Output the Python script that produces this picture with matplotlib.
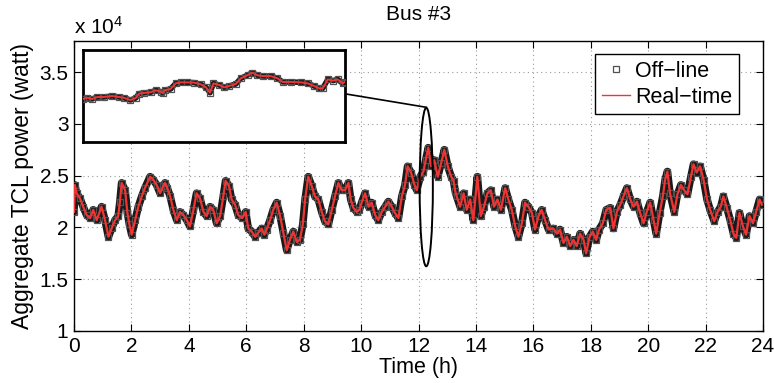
import matplotlib
matplotlib.use("Agg")
import matplotlib.pyplot as plt
from matplotlib.patches import Ellipse
from matplotlib.lines import Line2D

plt.rcParams['font.family'] = ['Liberation Sans', 'DejaVu Sans']
plt.rcParams['mathtext.default'] = 'regular'

# Aggregate TCL power at bus 3, in units of 10^4 W
hours = [
    0.00, 0.03, 0.09, 0.21, 0.32, 0.44, 0.56, 0.67, 0.79, 0.96, 1.08, 1.20, 1.31, 1.43,
    1.54, 1.60, 1.66, 1.78, 1.86, 1.93, 2.01, 2.13, 2.24, 2.36, 2.47, 2.65, 2.76, 2.88,
    3.00, 3.11, 3.17, 3.25, 3.35, 3.46, 3.58, 3.69, 3.81, 3.93, 4.04, 4.16, 4.27, 4.39,
    4.51, 4.62, 4.74, 4.85, 4.97, 5.09, 5.20, 5.28, 5.40, 5.49, 5.61, 5.72, 5.86, 5.98,
    6.07, 6.19, 6.31, 6.42, 6.54, 6.63, 6.71, 6.83, 6.94, 7.06, 7.18, 7.29, 7.41, 7.52,
    7.64, 7.76, 7.87, 7.97, 8.05, 8.16, 8.28, 8.39, 8.51, 8.63, 8.74, 8.86, 8.98, 9.09,
    9.21, 9.32, 9.44, 9.56, 9.64, 9.73, 9.85, 9.94, 10.02, 10.14, 10.26, 10.37, 10.49,
    10.60, 10.72, 10.84, 10.95, 11.07, 11.18, 11.30, 11.42, 11.53, 11.62, 11.74, 11.86,
    11.94, 12.06, 12.17, 12.25, 12.34, 12.44, 12.55, 12.67, 12.79, 12.90, 13.02, 13.14,
    13.22, 13.28, 13.33, 13.45, 13.57, 13.68, 13.80, 13.91, 14.05, 14.17, 14.28, 14.40,
    14.52, 14.63, 14.75, 14.87, 15.02, 15.13, 15.25, 15.37, 15.48, 15.60, 15.71, 15.83,
    15.95, 16.06, 16.18, 16.29, 16.41, 16.53, 16.70, 16.82, 16.93, 17.05, 17.17, 17.28,
    17.40, 17.51, 17.63, 17.75, 17.84, 17.96, 18.07, 18.19, 18.29, 18.42, 18.54, 18.68,
    18.79, 18.91, 19.03, 19.14, 19.26, 19.38, 19.49, 19.61, 19.72, 19.84, 19.95, 20.07,
    20.19, 20.28, 20.40, 20.51, 20.59, 20.67, 20.76, 20.91, 21.02, 21.14, 21.25, 21.37,
    21.49, 21.58, 21.69, 21.81, 21.93, 22.05, 22.16, 22.30, 22.42, 22.53, 22.62, 22.74,
    22.86, 22.97, 23.07, 23.18, 23.30, 23.41, 23.53, 23.65, 23.76, 23.88, 23.96,
]
power = [
    2.15, 2.41, 2.33, 2.28, 2.20, 2.12, 2.09, 2.17, 2.07, 2.20, 2.07, 1.91, 1.99, 2.07,
    2.11, 2.25, 2.43, 2.36, 2.14, 2.03, 1.93, 2.07, 2.20, 2.30, 2.38, 2.49, 2.46, 2.41,
    2.33, 2.40, 2.43, 2.38, 2.30, 2.17, 2.07, 2.15, 2.12, 2.07, 2.01, 2.17, 2.33, 2.28,
    2.15, 2.11, 2.20, 2.17, 2.04, 2.11, 2.30, 2.45, 2.40, 2.27, 2.22, 2.12, 2.09, 2.15,
    1.99, 1.96, 1.91, 1.95, 1.99, 1.93, 1.98, 2.07, 2.17, 2.24, 2.11, 1.95, 1.78, 1.88,
    1.96, 1.86, 1.88, 2.03, 2.27, 2.49, 2.40, 2.30, 2.27, 2.15, 2.06, 2.03, 2.17, 2.30,
    2.43, 2.36, 2.36, 2.43, 2.27, 2.19, 2.15, 2.17, 2.24, 2.33, 2.20, 2.24, 2.12,
    2.07, 2.15, 2.20, 2.25, 2.20, 2.14, 2.09, 2.30, 2.41, 2.59, 2.53, 2.41,
    2.36, 2.49, 2.54, 2.65, 2.77, 2.59, 2.65, 2.49, 2.62, 2.75, 2.59, 2.49,
    2.45, 2.35, 2.30, 2.20, 2.33, 2.17, 2.27, 2.07, 2.49, 2.11, 2.20, 2.33,
    2.36, 2.20, 2.27, 2.17, 2.38, 2.27, 2.17, 2.01, 1.91, 2.04, 2.24, 2.20,
    2.14, 1.98, 2.11, 2.17, 2.07, 1.98, 1.99, 1.94, 1.98, 1.85, 1.91, 1.82,
    1.88, 1.82, 1.94, 1.88, 1.75, 1.91, 1.96, 1.88, 1.98, 2.04, 2.17, 2.19,
    1.99, 2.15, 2.22, 2.30, 2.38, 2.27, 2.20, 2.25, 2.14, 2.04, 2.15, 2.24,
    2.07, 1.94, 2.14, 2.30, 2.46, 2.54, 2.33, 2.15, 2.32, 2.41, 2.36, 2.32,
    2.49, 2.61, 2.53, 2.59, 2.46, 2.27, 2.17, 2.06, 2.15, 2.20, 2.30, 2.19,
    2.07, 1.94, 1.90, 2.14, 2.01, 1.93, 2.11, 2.04, 2.15, 2.27, 2.22,
]

# Close-up of the circled window around 12.3 h
zoom_hours = [
    12.030, 12.037, 12.046, 12.055, 12.066, 12.081, 12.093, 12.101, 12.113, 12.122,
    12.128, 12.136, 12.148, 12.157, 12.166, 12.169, 12.174, 12.183, 12.192, 12.201,
    12.212, 12.224, 12.236, 12.245, 12.252, 12.258, 12.268, 12.277, 12.285, 12.297,
    12.306, 12.318, 12.326, 12.335, 12.344, 12.358, 12.370, 12.379, 12.394, 12.411,
    12.423, 12.434, 12.443, 12.449, 12.458, 12.467, 12.475, 12.484, 12.488,
]
zoom_power = [
    2.526, 2.536, 2.526, 2.541, 2.541, 2.549, 2.541, 2.536, 2.518, 2.533,
    2.567, 2.572, 2.577, 2.592, 2.582, 2.572, 2.595, 2.602, 2.645, 2.653,
    2.653, 2.651, 2.638, 2.615, 2.574, 2.645, 2.633, 2.615, 2.625, 2.640,
    2.684, 2.709, 2.727, 2.707, 2.701, 2.701, 2.684, 2.656, 2.656, 2.653,
    2.645, 2.625, 2.607, 2.607, 2.676, 2.666, 2.676, 2.645, 2.658,
]

x_ticks = list(range(0, 25, 2))
y_ticks = [1, 1.5, 2, 2.5, 3, 3.5]

RED = '#f03434'
DARK = '#1a1a1a'
EDGE = '#505050'


def draw_series(axis, t, p, band_lw, ms, red_lw):
    axis.plot(t, p, color=DARK, lw=band_lw, solid_joinstyle='round',
              solid_capstyle='round', zorder=2)
    mk, = axis.plot(t, p, ls='none', marker='s', ms=ms, mfc='none', mec=EDGE,
                    mew=0.9, zorder=3, label='Off\u2212line')
    ln, = axis.plot(t, p, color=RED, lw=red_lw, zorder=4, label='Real\u2212time')
    return mk, ln


fig = plt.figure(figsize=(7.74, 3.83), dpi=100)
ax = fig.add_axes([74 / 774, 52 / 383, 689 / 774, 290 / 383])

mk, ln = draw_series(ax, hours, power, band_lw=5.5, ms=5, red_lw=1.6)

ax.set_xlim(0, 24)
ax.set_ylim(1, 3.8)
ax.set_xticks(x_ticks)
ax.set_yticks(y_ticks)
ax.set_yticklabels([f'{v:g}' for v in y_ticks])
ax.tick_params(direction='in', top=True, right=True, length=5, width=0.8,
               labelsize=15, pad=4)
ax.grid(True, linestyle=(0, (1, 3)), color='#9a9a9a', lw=0.8)
ax.set_axisbelow(True)
for s in ax.spines.values():
    s.set_linewidth(1.0)

ax.set_xlabel('Time (h)', fontsize=15.5, labelpad=1)
ax.set_ylabel('Aggregate TCL power (watt)', fontsize=16.5, labelpad=4)
ax.set_title('Bus #3', fontsize=15, pad=15)
ax.text(0.0, 1.012, 'x 10$^{4}$', transform=ax.transAxes, fontsize=15,
        ha='left', va='bottom')

# circled window and its connector to the close-up panel
ax.add_patch(Ellipse((12.27, 2.39), width=0.46, height=1.53, fill=False,
                     ec='black', lw=1.4, zorder=5))
ax.add_line(Line2D([9.44, 12.27], [3.29, 3.16], color='black', lw=1.2, zorder=5))

leg = ax.legend(handles=[mk, ln], loc='upper right', bbox_to_anchor=(0.965, 0.955),
                borderaxespad=0, fontsize=15.5, frameon=True, fancybox=False,
                edgecolor='black', framealpha=1, handlelength=1.3,
                handletextpad=0.25, labelspacing=0.25, borderpad=0.3)
leg.get_frame().set_linewidth(1.0)
leg.legend_handles[1].set_linewidth(1.0)

# close-up panel
axin = fig.add_axes([83 / 774, (383 - 141.7) / 383, 262 / 774, 91.7 / 383])
draw_series(axin, zoom_hours, zoom_power, band_lw=4.0, ms=4, red_lw=1.4)
axin.set_xlim(12.03, 12.488)
axin.set_ylim(2.2, 2.9)
axin.set_xticks([])
axin.set_yticks([])
for s in axin.spines.values():
    s.set_linewidth(2.0)

fig.savefig('out.png', dpi=100)
